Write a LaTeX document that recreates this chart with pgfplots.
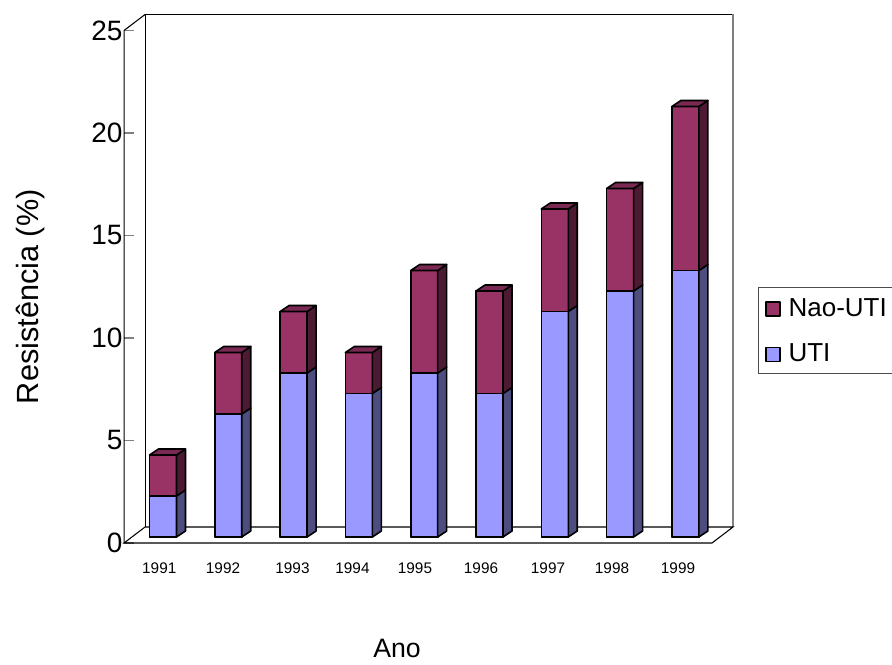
\documentclass[border=0pt]{standalone}
\usepackage{fontspec}
\setmainfont{Liberation Sans}
\usepackage{pgfplots}
\usepackage{pgfplotstable}
\pgfplotsset{compat=1.18}

\definecolor{utiFront}{HTML}{9999FF}
\definecolor{utiSide}{HTML}{4D4D80}
\definecolor{naoFront}{HTML}{993366}
\definecolor{naoSide}{HTML}{4D1A33}
\definecolor{naoTop}{HTML}{7A2952}

% resistance (%) per year, split into ICU (UTI) and non-ICU share
\pgfplotstableread{
x year UTI Nao
1 1991 2  2
2 1992 6  3
3 1993 8  3
4 1994 7  2
5 1995 8  5
6 1996 7  5
7 1997 11 5
8 1998 12 5
9 1999 13 8
}\barsdata

% half bar width and the depth offset of the pseudo-3D faces (axis units)
\def\hw{0.2067}
\def\dx{0.1378}
\def\dy{0.2927}

\begin{document}
\begin{tikzpicture}
\begin{axis}[
  x=48.975pt, y=15.375pt,
  xmin=0.4034, xmax=9.729, ymin=-0.2927, ymax=25.4878,
  clip=false,
  axis line style={draw=none},
  ytick={-0.2927,4.7073,9.7073,14.7073,19.7073,24.7073},
  yticklabels={0,5,10,15,20,25},
  ytick pos=left, tick align=inside,
  major tick length=7.5pt,
  ytick style={gray, line width=0.8pt},
  yticklabel style={font=\fontsize{21}{21}\selectfont, inner sep=1pt},
  xtick={0.943,1.919,2.983,3.902,4.859,5.870,6.896,7.876,8.887},
  xticklabels={1991,1992,1993,1994,1995,1996,1997,1998,1999},
  xtick style={draw=none},
  xticklabel style={font=\fontsize{11.5}{12}\selectfont, anchor=base, yshift=-22.5pt},
  ylabel={Resistência (\%)},
  ylabel style={at={(axis description cs:-0.1544,0.4660)}, anchor=center,
                font=\fontsize{23}{23}\selectfont},
  xlabel={Ano},
  xlabel style={at={(axis description cs:0.4482,-0.1987)}, anchor=center,
                font=\fontsize{20}{20}\selectfont},
  legend style={at={(axis description cs:1.0411,0.4844)}, anchor=north west,
                draw=gray!60!black, line width=0.8pt, fill=white,
                font=\fontsize{19.5}{20}\selectfont,
                inner xsep=5pt, inner ysep=6pt, row sep=15pt},
  legend cell align=left,
  legend image code/.code={
    \draw[#1, draw=black, line width=1pt] (0pt,-6pt) rectangle (10.5pt,4.5pt);
    \path[draw=none, fill=none] (0pt,0pt) -- (15pt,0pt);},
  /pgf/number format/assume math mode=true,
  barface/.style={draw=black, line width=1.2pt, line join=round},
]

% chart frame: back wall, floor and left edge
\draw[line width=0.8pt] (axis cs:0.725,0.4878) -- (axis cs:0.725,25.4878) -- (axis cs:9.729,25.4878);
\draw[line width=0.8pt, gray] (axis cs:9.729,25.4878) -- (axis cs:9.729,0.4878);
\draw[line width=0.8pt] (axis cs:0.725,0.4878) -- (axis cs:9.729,0.4878) -- (axis cs:9.4074,-0.2927)
   -- (axis cs:0.4034,-0.2927) -- (axis cs:0.725,0.4878);
\draw[line width=0.8pt] (axis cs:0.4034,-0.2927) -- (axis cs:0.4034,24.7073) -- (axis cs:0.725,25.4878);

% front faces: total height in the non-ICU colour, ICU share over it
\addplot[ybar, bar width=20.25pt, fill=naoFront, barface]
  table[x=x, y expr=\thisrow{UTI}+\thisrow{Nao}] {\barsdata};
\addlegendentry{Nao-UTI}
\addplot[ybar, bar width=20.25pt, fill=utiFront, barface]
  table[x=x, y=UTI] {\barsdata};
\addlegendentry{UTI}

% side and top faces of every bar
\pgfplotsinvokeforeach{0,...,8}{
  \pgfplotstablegetelem{#1}{x}\of\barsdata \let\bx\pgfplotsretval
  \pgfplotstablegetelem{#1}{UTI}\of\barsdata \let\bu\pgfplotsretval
  \pgfplotstablegetelem{#1}{Nao}\of\barsdata \let\bn\pgfplotsretval
  \pgfmathsetmacro\xl{\bx-\hw}
  \pgfmathsetmacro\xr{\bx+\hw}
  \pgfmathsetmacro\xlb{\xl+\dx}
  \pgfmathsetmacro\xrb{\xr+\dx}
  \pgfmathsetmacro\ub{\bu+\dy}
  \pgfmathsetmacro\tf{\bu+\bn}
  \pgfmathsetmacro\tb{\tf+\dy}
  \addplot[forget plot, fill=utiSide, barface]
    coordinates {(\xr,0) (\xrb,\dy) (\xrb,\ub) (\xr,\bu)} -- cycle;
  \addplot[forget plot, fill=naoSide, barface]
    coordinates {(\xr,\bu) (\xrb,\ub) (\xrb,\tb) (\xr,\tf)} -- cycle;
  \addplot[forget plot, fill=naoTop, barface]
    coordinates {(\xl,\tf) (\xlb,\tb) (\xrb,\tb) (\xr,\tf)} -- cycle;
}

\coordinate (tl) at (axis cs:-1.4962,26.1951);
\coordinate (br) at (axis cs:12.1639,-6.1951);
\end{axis}
\pgfresetboundingbox
\path (tl) rectangle (br);
\end{tikzpicture}
\end{document}
